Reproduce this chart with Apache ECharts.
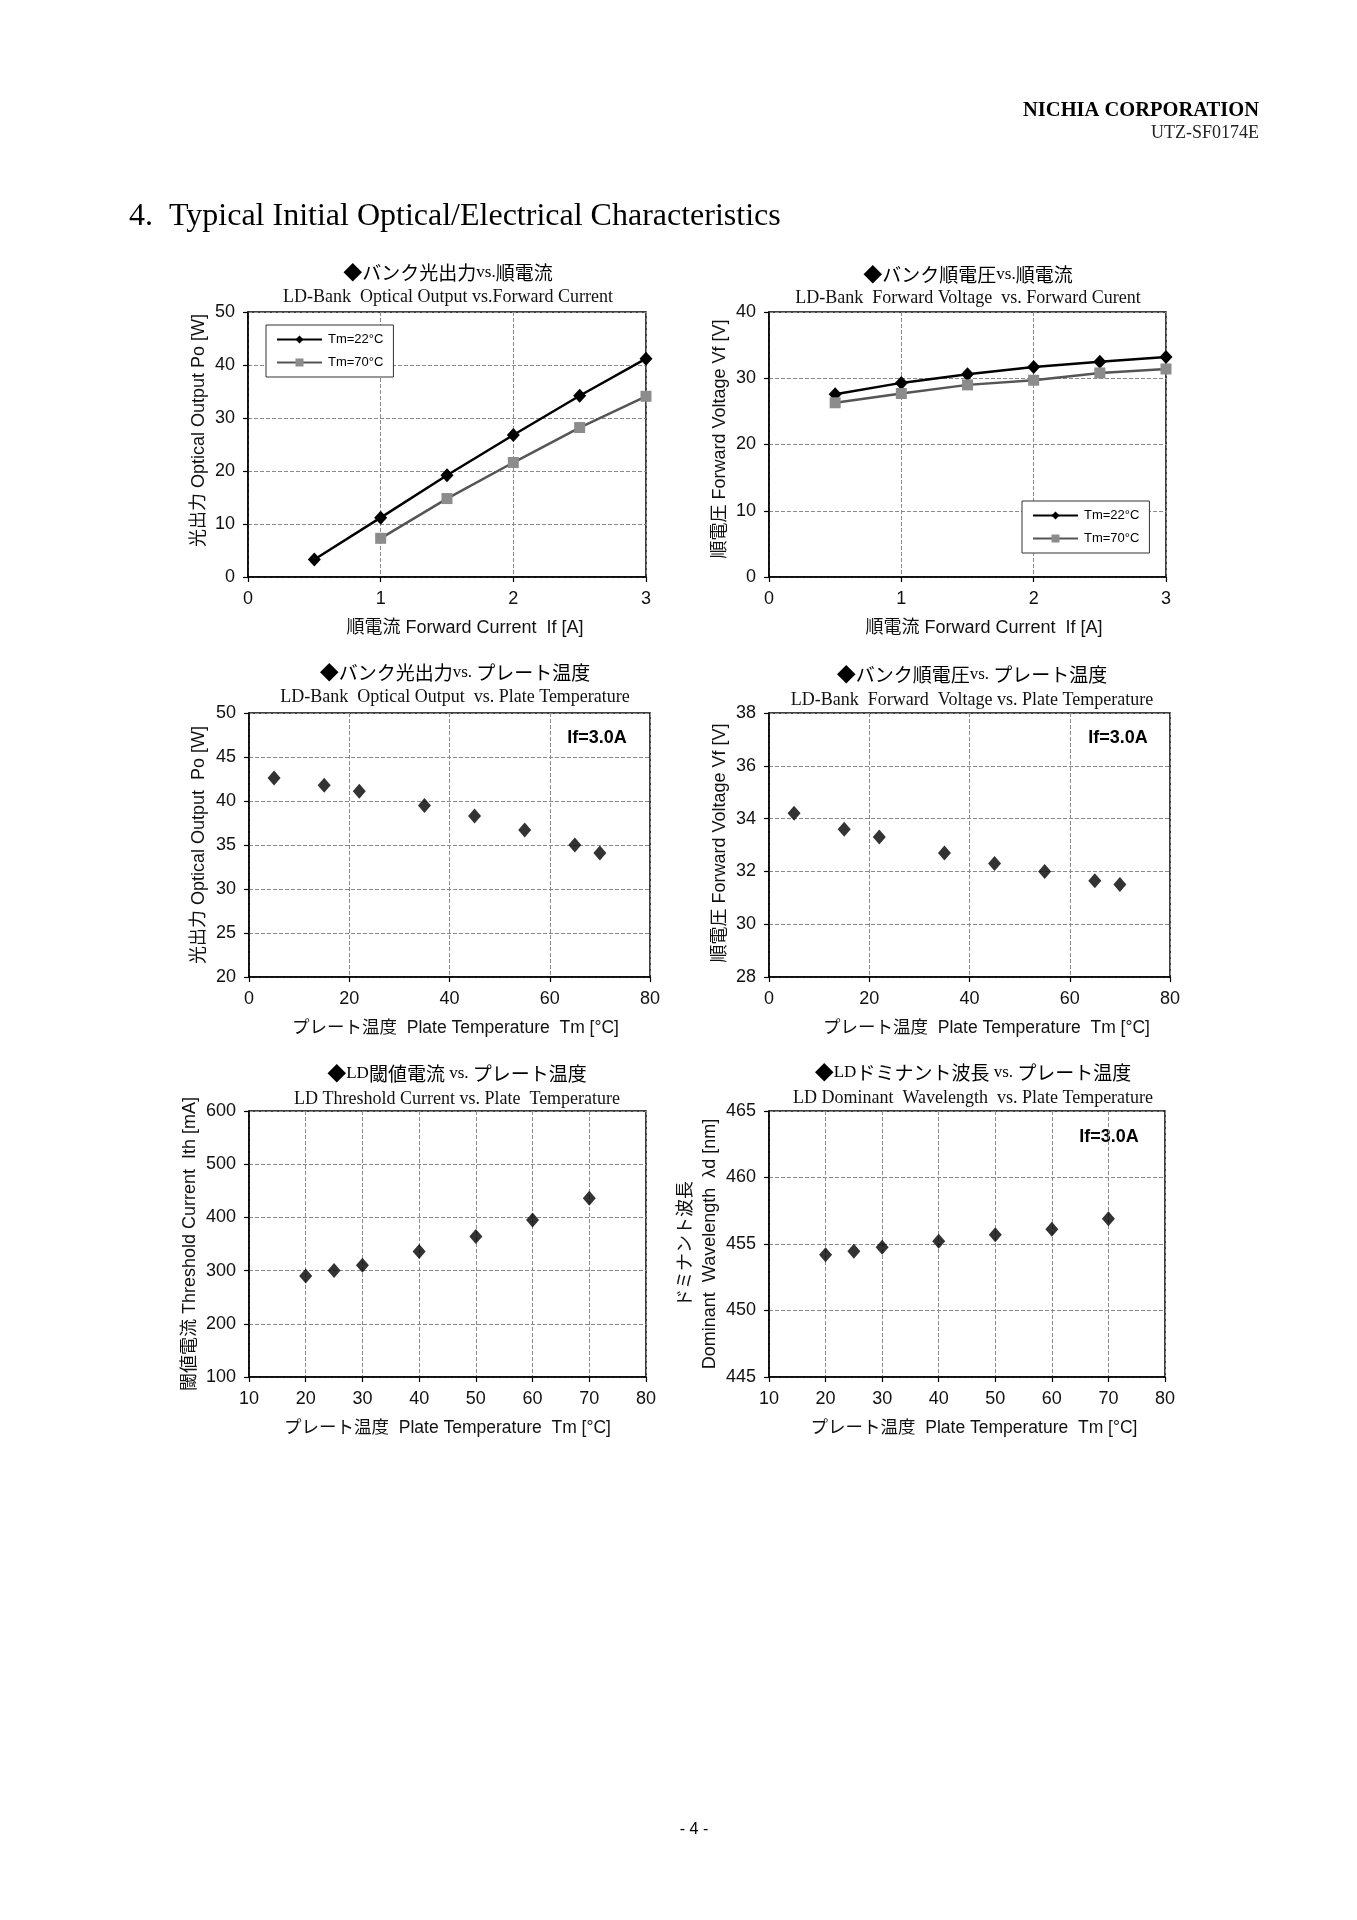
<!DOCTYPE html>
<html><head><meta charset="utf-8">
<script src="https://cdn.jsdelivr.net/npm/echarts@6/dist/echarts.min.js"></script>
<style>html,body{margin:0;padding:0;background:#fff}#c{width:1357px;height:1920px}</style>
</head><body><div id="c"></div>
<script>
// ---- data ----
const currentA = [0.5, 1, 1.5, 2, 2.5, 3];
const po22 = [3.3, 11.2, 19.2, 26.8, 34.2, 41.2];
const current70 = [1, 1.5, 2, 2.5, 3];
const po70 = [7.3, 14.8, 21.6, 28.2, 34.1];
const vf22 = [27.6, 29.3, 30.6, 31.7, 32.5, 33.2];
const vf70 = [26.3, 27.7, 29.0, 29.7, 30.8, 31.4];
const plateTempA = [5, 15, 22, 35, 45, 55, 65, 70];
const poVsTemp = [42.6, 41.8, 41.1, 39.5, 38.3, 36.7, 35.0, 34.1];
const vfVsTemp = [34.2, 33.6, 33.3, 32.7, 32.3, 32.0, 31.65, 31.5];
const plateTempB = [20, 25, 30, 40, 50, 60, 70];
const ithVsTemp = [290, 300, 310, 336, 364, 395, 436];
const wlVsTemp = [454.2, 454.45, 454.75, 455.2, 455.7, 456.1, 456.9];
const legendNames = ['Tm=22°C', 'Tm=70°C'];

const zip = (xs, ys) => xs.map((x, i) => [x, ys[i]]);

const SANS = "'Liberation Sans','Noto Sans CJK JP'";
const CJK = "'Noto Sans CJK JP'";

const grids = [
  {left: 248, top: 312, width: 398, height: 265},
  {left: 769, top: 312, width: 397, height: 265},
  {left: 249, top: 713, width: 401, height: 264},
  {left: 769, top: 713, width: 401, height: 264},
  {left: 249, top: 1111, width: 397, height: 266},
  {left: 769, top: 1111, width: 396, height: 266}
];
const xCfg = [
  {min: 0, max: 3, interval: 1, name: '順電流 Forward Current  If [A]', shift: 36, fs: 18},
  {min: 0, max: 3, interval: 1, name: '順電流 Forward Current  If [A]', shift: 33, fs: 18},
  {min: 0, max: 80, interval: 20, name: 'プレート温度  Plate Temperature  Tm [°C]', shift: 12, fs: 17.5},
  {min: 0, max: 80, interval: 20, name: 'プレート温度  Plate Temperature  Tm [°C]', shift: 34, fs: 17.5},
  {min: 10, max: 80, interval: 10, name: 'プレート温度  Plate Temperature  Tm [°C]', shift: 0, fs: 17.5},
  {min: 10, max: 80, interval: 10, name: 'プレート温度  Plate Temperature  Tm [°C]', shift: 14, fs: 17.5}
];
const yCfg = [
  {min: 0, max: 50, interval: 10, name: '光出力 Optical Output Po [W]', gap: 37, shift: 28},
  {min: 0, max: 40, interval: 10, name: '順電圧 Forward Voltage Vf [V]', gap: 37, shift: 11},
  {min: 20, max: 50, interval: 5, name: '光出力 Optical Output  Po [W]', gap: 38, shift: 0},
  {min: 28, max: 38, interval: 2, name: '順電圧 Forward Voltage Vf [V]', gap: 35, shift: 4},
  {min: 100, max: 600, interval: 100, name: '閾値電流 Threshold Current  Ith [mA]', gap: 43, shift: 0},
  {min: 445, max: 465, interval: 5, name: 'ドミナント波長\nDominant  Wavelength  λd [nm]', gap: 46, shift: 0}
];

const titles = [
  {x: 448, jp: '{j|◆バンク光出力}{v|vs.}{j|順電流}', en: 'LD-Bank  Optical Output vs.Forward Current'},
  {x: 968, jp: '{j|◆バンク順電圧}{v|vs.}{j|順電流}', en: 'LD-Bank  Forward Voltage  vs. Forward Curent'},
  {x: 455, jp: '{j|◆バンク光出力}{v|vs. }{j|プレート温度}', en: 'LD-Bank  Optical Output  vs. Plate Temperature'},
  {x: 972, jp: '{j|◆バンク順電圧}{v|vs. }{j|プレート温度}', en: 'LD-Bank  Forward  Voltage vs. Plate Temperature'},
  {x: 457, jp: '{j|◆}{v|LD}{j|閾値電流 }{v|vs. }{j|プレート温度}', en: 'LD Threshold Current vs. Plate  Temperature'},
  {x: 973, jp: '{j|◆}{v|LD}{j|ドミナント波長 }{v|vs. }{j|プレート温度}', en: 'LD Dominant  Wavelength  vs. Plate Temperature'}
];
const titleY = [[273, 297], [275, 298], [673, 697], [675, 700], [1074, 1099], [1073, 1098]];

const tagIf = [{x: 597, y: 738}, {x: 1118, y: 738}, {x: 1109, y: 1137}];

const graphic = [
  {type: 'text', style: {text: 'NICHIA CORPORATION', x: 1259, y: 111, align: 'right', verticalAlign: 'middle',
    font: "bold 20.5px 'Liberation Serif'", fill: '#000'}},
  {type: 'text', style: {text: 'UTZ-SF0174E', x: 1259, y: 133, align: 'right', verticalAlign: 'middle',
    font: "18px 'Liberation Serif'", fill: '#222'}},
  {type: 'text', style: {text: '4.  Typical Initial Optical/Electrical Characteristics', x: 129, y: 217,
    align: 'left', verticalAlign: 'middle', font: "32px 'Liberation Serif'", fill: '#000'}},
  {type: 'text', style: {text: '- 4 -', x: 694, y: 1830, align: 'center', verticalAlign: 'middle',
    font: "16px 'Liberation Sans'", fill: '#000'}}
];
titles.forEach((t, i) => {
  graphic.push({type: 'text', style: {text: t.jp, x: t.x, y: titleY[i][0], align: 'center', verticalAlign: 'middle',
    rich: {j: {fontFamily: CJK, fontSize: 19, fill: '#000', fontWeight: 'normal'},
           v: {fontFamily: "'Liberation Serif'", fontSize: 17, fill: '#000'}}}});
  graphic.push({type: 'text', style: {text: t.en, x: t.x, y: titleY[i][1], align: 'center', verticalAlign: 'middle',
    font: "18px 'Liberation Serif'", fill: '#111'}});
});
tagIf.forEach(p => graphic.push({type: 'text', style: {text: 'If=3.0A', x: p.x, y: p.y, align: 'center',
  verticalAlign: 'middle', font: "bold 18px 'Liberation Sans'", fill: '#000'}}));

const axisCommon = {
  axisLine: {show: true, onZero: false, lineStyle: {color: '#000', width: 1.5}},
  axisTick: {show: true, inside: false, length: 5, lineStyle: {color: '#000', width: 1.2}},
  axisLabel: {color: '#111', fontSize: 18, fontFamily: "'Liberation Sans'"},
  splitLine: {show: true, lineStyle: {color: '#8a8a8a', width: 1, type: [4, 2]}},
  nameLocation: 'middle'
};
const nameStyle = (fs, padLeft) => ({color: '#111', fontSize: fs, fontFamily: SANS, lineHeight: 24,
  padding: [0, 0, 0, padLeft]});

const xAxis = xCfg.map((c, i) => Object.assign({}, axisCommon, {
  type: 'value', gridIndex: i, min: c.min, max: c.max, interval: c.interval,
  name: c.name, nameGap: 39, nameTextStyle: nameStyle(c.fs, c.shift),
  axisLabel: Object.assign({}, axisCommon.axisLabel, {margin: 13})
}));
const yAxis = yCfg.map((c, i) => Object.assign({}, axisCommon, {
  type: 'value', gridIndex: i, min: c.min, max: c.max, interval: c.interval,
  name: c.name, nameGap: c.gap, nameRotate: 90, nameTextStyle: nameStyle(18, c.shift),
  axisLabel: Object.assign({}, axisCommon.axisLabel, {margin: 13})
}));

const black = '#000', grey = '#8c8c8c', greyLine = '#555';
const lineSeries = (name, data, gi, isGrey) => ({
  type: 'line', name, xAxisIndex: gi, yAxisIndex: gi, data,
  symbol: isGrey ? 'rect' : 'diamond', symbolSize: isGrey ? 11 : [13, 14],
  showAllSymbol: true,
  itemStyle: {color: isGrey ? grey : black},
  lineStyle: {color: isGrey ? greyLine : black, width: 2.5},
  emphasis: {disabled: true}, animation: false
});
const scatterSeries = (data, gi) => ({
  type: 'scatter', xAxisIndex: gi, yAxisIndex: gi, data,
  symbol: 'diamond', symbolSize: [13, 15], itemStyle: {color: black},
  emphasis: {disabled: true}, animation: false
});

const series = [
  lineSeries(legendNames[0], zip(currentA, po22), 0, false),
  lineSeries(legendNames[1], zip(current70, po70), 0, true),
  lineSeries(legendNames[0], zip(currentA, vf22), 1, false),
  lineSeries(legendNames[1], zip(currentA, vf70), 1, true),
  scatterSeries(zip(plateTempA, poVsTemp), 2),
  scatterSeries(zip(plateTempA, vfVsTemp), 3),
  scatterSeries(zip(plateTempB, ithVsTemp), 4),
  scatterSeries(zip(plateTempB, wlVsTemp), 5)
];

const legendCommon = {
  orient: 'vertical', data: legendNames, itemWidth: 45, itemHeight: 10, itemGap: 10,
  padding: [8, 10, 8, 10], borderColor: '#333', borderWidth: 1, backgroundColor: '#fff',
  selectedMode: false,
  textStyle: {fontSize: 13, fontFamily: "'Liberation Sans'", color: '#000', padding: [0, 0, 0, 1]}
};

const chart = echarts.init(document.getElementById('c'), null, {renderer: 'canvas'});
chart.setOption({
  animation: false,
  backgroundColor: '#fff',
  grid: grids.map(g => Object.assign({show: true, borderColor: '#000', borderWidth: 1.5, backgroundColor: 'transparent'}, g)),
  xAxis, yAxis, series,
  legend: [
    Object.assign({}, legendCommon, {left: 266, top: 325}),
    Object.assign({}, legendCommon, {left: 1022, top: 501})
  ],
  graphic
});
</script></body></html>
